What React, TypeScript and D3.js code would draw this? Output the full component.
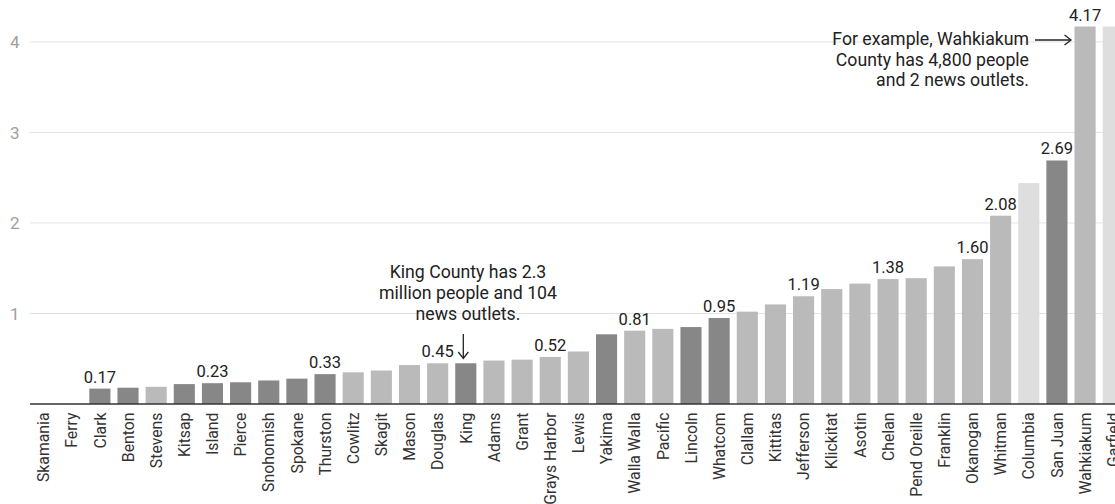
import React from "react";
import * as d3 from "d3";

// Counties ordered by news outlets per 10,000 residents
const counties = [
  "Skamania", "Ferry", "Clark", "Benton", "Stevens", "Kitsap", "Island", "Pierce",
  "Snohomish", "Spokane", "Thurston", "Cowlitz", "Skagit", "Mason", "Douglas", "King",
  "Adams", "Grant", "Grays Harbor", "Lewis", "Yakima", "Walla Walla", "Pacific", "Lincoln",
  "Whatcom", "Clallam", "Kittitas", "Jefferson", "Klickitat", "Asotin", "Chelan",
  "Pend Oreille", "Franklin", "Okanogan", "Whitman", "Columbia", "San Juan", "Wahkiakum",
  "Garfield",
];

const outletsPer10k = [
  0, 0, 0.17, 0.18, 0.19, 0.22, 0.23, 0.24,
  0.26, 0.28, 0.33, 0.35, 0.37, 0.43, 0.45, 0.45,
  0.48, 0.49, 0.52, 0.58, 0.77, 0.81, 0.83, 0.85,
  0.95, 1.02, 1.1, 1.19, 1.27, 1.33, 1.38,
  1.39, 1.52, 1.6, 2.08, 2.44, 2.69, 4.17,
  4.17,
];

// Shade tier for each county (1 = dark, 2 = medium, 3 = light)
const tiers = [
  2, 3, 1, 1, 2, 1, 1, 1,
  1, 1, 1, 2, 2, 2, 2, 1,
  2, 2, 2, 2, 1, 2, 2, 1,
  1, 2, 2, 2, 2, 2, 2,
  2, 2, 2, 2, 3, 1, 2,
  3,
];

// Counties that carry a value label
const labelled = [
  "Clark", "Island", "Thurston", "Douglas", "Grays Harbor", "Walla Walla", "Whatcom",
  "Jefferson", "Chelan", "Okanogan", "Whitman", "San Juan", "Wahkiakum",
];

const yTicks = [1, 2, 3, 4];

const kingNote = ["King County has 2.3", "million people and 104", "news outlets."];
const wahkiakumNote = ["For example, Wahkiakum", "County has 4,800 people", "and 2 news outlets."];

const tierColor: Record<number, string> = { 1: "#878787", 2: "#bababa", 3: "#dedede" };

const W = 1115;
const H = 504;
const FONT = "Roboto, 'Noto Sans', sans-serif";

export default function App() {
  const x = d3
    .scaleBand<string>()
    .domain(counties)
    .range([30, 1126.8])
    .paddingInner(0.25)
    .paddingOuter(0.107);

  const y = d3.scaleLinear().domain([0, 4]).range([404, 41.9]);

  const bw = x.bandwidth();
  const cx = (name: string) => (x(name) ?? 0) + bw / 2;

  const kingX = cx("King") - 2.5;
  const wahX = x("Wahkiakum") ?? 0;
  const wahY = y(4.17) + 13.5;

  return (
    <svg
      width={W}
      height={H}
      style={{ position: "absolute", left: 0, top: 0, background: "#fff" }}
      fontFamily={FONT}
    >
      {/* gridlines */}
      {yTicks.map((t) => (
        <g key={t}>
          <line x1={30} x2={W} y1={y(t)} y2={y(t)} stroke="#e3e3e3" strokeWidth={1} />
          <text
            x={19.5}
            y={y(t)}
            dy="0.36em"
            textAnchor="end"
            fontSize={17}
            fill="#a0a0a0"
          >
            {t}
          </text>
        </g>
      ))}

      {/* bars */}
      {counties.map((c, i) => (
        <rect
          key={c}
          x={x(c)}
          y={y(outletsPer10k[i])}
          width={bw}
          height={y(0) - y(outletsPer10k[i])}
          fill={tierColor[tiers[i]]}
        />
      ))}

      {/* baseline */}
      <line x1={30} x2={W} y1={y(0)} y2={y(0)} stroke="#333" strokeWidth={1.5} />

      {/* value labels */}
      {counties.map((c, i) =>
        labelled.includes(c) ? (
          <text
            key={c}
            x={cx(c)}
            y={y(outletsPer10k[i]) - 6}
            textAnchor="middle"
            fontSize={16.5}
            fill="#222"
          >
            {outletsPer10k[i].toFixed(2)}
          </text>
        ) : null
      )}

      {/* category labels */}
      {counties.map((c) => (
        <text
          key={c}
          transform={`translate(${cx(c)},${y(0) + 8.5}) rotate(-90)`}
          textAnchor="end"
          dy="0.36em"
          fontSize={15.8}
          fill="#333"
        >
          {c}
        </text>
      ))}

      {/* King County note */}
      <text textAnchor="middle" fontSize={17.7} fill="#222">
        {kingNote.map((l, i) => (
          <tspan key={i} x={468} y={278.3 + i * 20.7}>
            {l}
          </tspan>
        ))}
      </text>
      <g stroke="#222" strokeWidth={1.3} fill="none">
        <line x1={kingX} x2={kingX} y1={334} y2={358} />
        <path d={`M${kingX - 5},${352} L${kingX},${358.5} L${kingX + 5},${352}`} />
      </g>

      {/* Wahkiakum note */}
      <text textAnchor="end" fontSize={17.7} fill="#222">
        {wahkiakumNote.map((l, i) => (
          <tspan key={i} x={1029} y={45 + i * 20.7}>
            {l}
          </tspan>
        ))}
      </text>
      <g stroke="#222" strokeWidth={1.3} fill="none">
        <line x1={1035} x2={wahX - 4} y1={wahY} y2={wahY} />
        <path d={`M${wahX - 10},${wahY - 5} L${wahX - 3.5},${wahY} L${wahX - 10},${wahY + 5}`} />
      </g>
    </svg>
  );
}
